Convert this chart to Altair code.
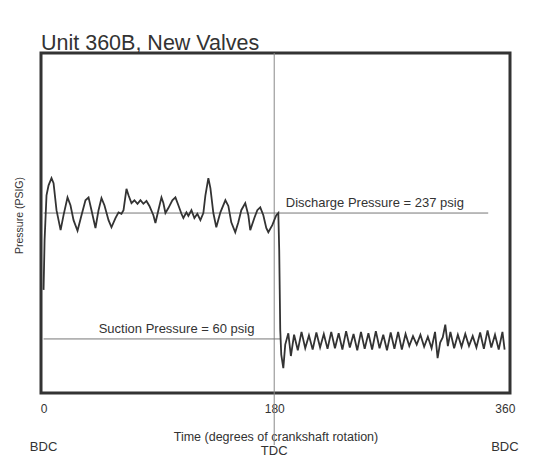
import altair as alt
import pandas as pd

# Trace: crank angle (degrees) and cylinder pressure (psig)
deg = [0.0, 0.8, 2.3, 3.9, 6.2, 7.8, 10.1, 13.3, 15.6, 18.7, 21.0, 23.4, 26.5, 29.6, 32.7,
       35.1, 37.4, 40.5, 42.9, 45.2, 47.5, 50.7, 53.0, 56.1, 58.5, 60.8, 62.4, 64.7, 66.3,
       68.6, 70.9, 73.3, 75.6, 77.9, 80.3, 82.6, 85.7, 87.3, 89.6, 92.0, 93.5, 95.1, 97.4,
       100.5, 102.9, 105.2, 107.6, 109.1, 111.5, 113.0, 115.4, 117.7, 120.0, 122.4, 124.7,
       126.3, 128.6, 130.2, 132.5, 134.8, 138.0, 141.9, 144.2, 146.5, 149.6, 152.0, 154.3,
       157.4, 159.8, 161.3, 164.5, 166.8, 169.1, 171.5, 173.8, 175.4, 178.5, 181.6, 183.2,
       183.9, 184.3, 184.7, 185.5, 187.1, 188.6, 191.0, 193.0, 195.5,
       198.4, 201.3, 204.2, 207.1, 210.0, 212.9, 215.8, 218.7, 221.6, 224.5, 227.4, 230.3,
       233.2, 236.1, 239.0, 241.9, 244.8, 247.7, 250.6, 253.5, 256.4, 259.3, 262.2, 265.1,
       268.0, 270.9, 273.8, 276.7, 279.6, 282.5, 285.4, 288.3, 291.2, 294.1, 297.0, 299.9,
       302.8, 305.5, 307.5, 309.5, 311.5, 313.5, 315.5, 317.5, 320.4, 323.3, 326.2, 329.1,
       332.0, 334.9, 337.8, 340.7, 343.6, 346.5, 349.4, 352.3, 355.2, 358.1, 359.8]
psig = [129, 199, 262, 276, 286, 279, 241, 213, 234, 259, 248, 227, 212, 234, 255,
        259, 241, 216, 241, 258, 248, 227, 217, 230, 238, 236, 241, 271, 262,
        251, 255, 250, 255, 250, 254, 247, 234, 223, 241, 259, 251, 237, 244,
        255, 259, 248, 236, 230, 238, 233, 241, 230, 236, 227, 237,
        262, 286, 272, 237, 217, 238, 255, 247, 224, 210, 224, 241,
        251, 234, 213, 230, 241, 245, 234, 216, 210, 220, 234, 237,
        185, 129, 73, 38, 19, 52, 68, 36, 66,
        44, 70, 47, 65, 45, 69, 48, 67, 46, 70, 47, 68,
        45, 71, 48, 67, 44, 70, 46, 68, 45, 71, 47, 66,
        44, 69, 46, 70, 45, 67, 50, 64, 52, 66, 49, 63,
        47, 70, 33, 55, 62, 80, 50, 70, 47, 66, 49, 67,
        50, 64, 48, 69, 46, 72, 48, 66, 45, 70, 45]

ref_names = ["Discharge Pressure = 237 psig", "Suction Pressure = 60 psig"]
ref_psig = [237, 60]
ref_start = [0, 0]
ref_end = [347, 185]
label_deg = [189, 43]

marker_deg = [0, 180, 360]
marker_text = ["BDC", "TDC", "BDC"]
marker_y = [394, 398, 394]
marker_dx = [3, -2, -7]

FONT = "Liberation Sans"
INK = "#333333"
W, H = 469, 340

trace = pd.DataFrame({"deg": deg, "psig": psig})
refs = pd.DataFrame({"name": ref_names, "psig": ref_psig, "x0": ref_start,
                     "x1": ref_end, "lx": label_deg})
marks = pd.DataFrame({"deg": marker_deg, "text": marker_text, "y": marker_y, "dx": marker_dx})

xscale = alt.Scale(domain=[-2, 364], nice=False, zero=False)
yscale = alt.Scale(domain=[-16, 462], nice=False, zero=False)

xaxis = alt.Axis(values=[0, 180, 360], ticks=False, domain=False, grid=False,
                 labelFont=FONT, labelFontSize=12, labelColor=INK, labelPadding=10,
                 title="Time (degrees of crankshaft rotation)", titleFont=FONT,
                 titleFontSize=12.5, titleFontWeight="normal", titleColor=INK,
                 titlePadding=16)
yaxis = alt.Axis(labels=False, ticks=False, domain=False, grid=False,
                 title="Pressure (PSIG)", titleFont=FONT, titleFontSize=10.5,
                 titleFontWeight="normal", titleColor=INK, titlePadding=17,
                 titleY=162)

line = alt.Chart(trace).mark_line(color=INK, strokeWidth=1.8, clip=True).encode(
    x=alt.X("deg:Q", scale=xscale, axis=xaxis),
    y=alt.Y("psig:Q", scale=yscale, axis=yaxis),
    order="deg:Q",
)

ref_rules = alt.Chart(refs).mark_rule(color="#777777", strokeWidth=1).encode(
    x=alt.X("x0:Q", scale=xscale),
    x2="x1:Q",
    y=alt.Y("psig:Q", scale=yscale),
)

ref_text = alt.Chart(refs).mark_text(align="left", baseline="bottom", dy=-3,
                                     font=FONT, fontSize=13, color=INK).encode(
    x=alt.X("lx:Q", scale=xscale),
    y=alt.Y("psig:Q", scale=yscale),
    text="name:N",
)

tdc_rule = alt.Chart(pd.DataFrame({"deg": [180]})).mark_rule(
    color="#888888", strokeWidth=1, clip=False).encode(
    x=alt.X("deg:Q", scale=xscale),
    y=alt.value(0),
    y2=alt.value(H + 52),
)

marker_text_layer = alt.Chart(marks).mark_text(
    baseline="middle", align="center", font=FONT, fontSize=13, color=INK, clip=False).encode(
    x=alt.X("deg:Q", scale=xscale),
    y=alt.Y("y:Q", scale=None),
    text="text:N",
    xOffset=alt.XOffset("dx:Q", scale=None),
)

chart = alt.layer(tdc_rule, ref_rules, line, ref_text, marker_text_layer).properties(
    width=W,
    height=H,
    title=alt.TitleParams("Unit 360B, New Valves", anchor="start", frame="group",
                          font=FONT, fontSize=21.5, fontWeight="normal", color=INK,
                          offset=-2),
    autosize=alt.AutoSizeParams(type="none"),
    padding={"left": 33, "top": 45, "right": 20, "bottom": 66},
    background="white",
).configure_view(stroke=INK, strokeWidth=3)

chart.save("out.html", embed_options={"renderer": "svg", "actions": False})
